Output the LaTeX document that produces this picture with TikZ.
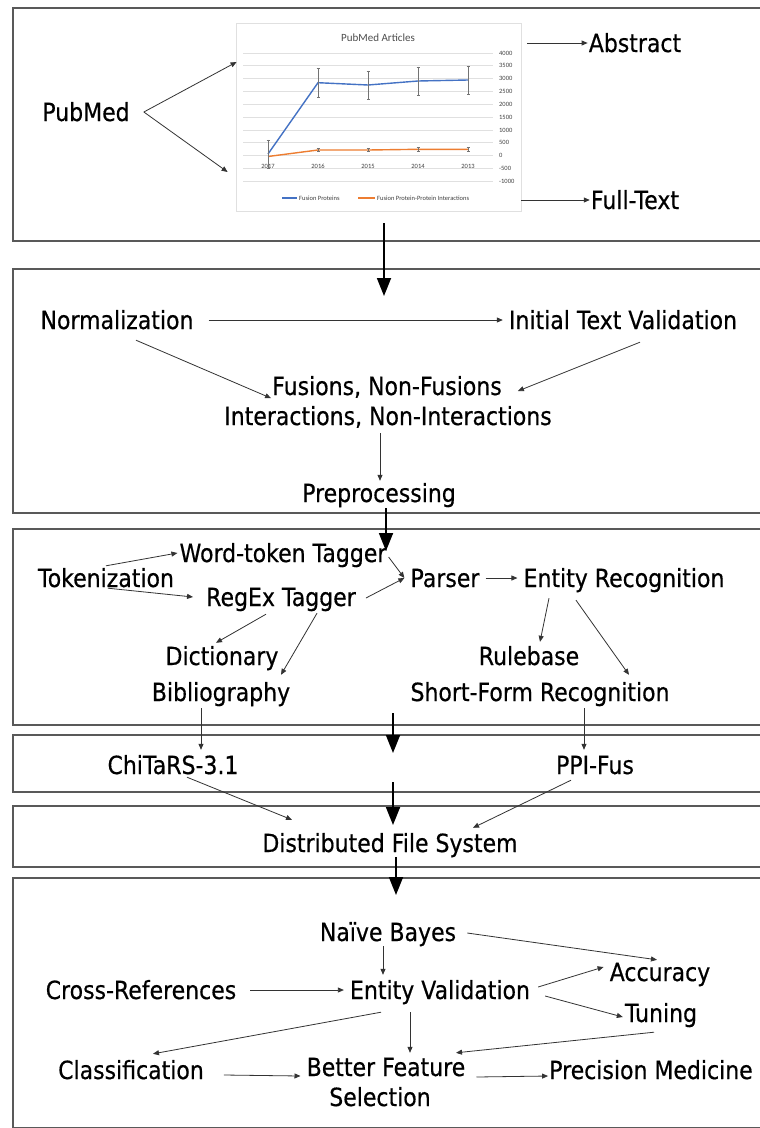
\documentclass[tikz,border=0pt]{standalone}
\usepackage{fontspec}
\setmainfont{DejaVu Sans}[FakeStretch=0.88, FakeBold=0.5]
\newfontfamily\chartfont{Carlito}
\usetikzlibrary{arrows.meta,calc}
\definecolor{fusblue}{RGB}{68,114,196}
\definecolor{fusorange}{RGB}{237,125,49}
\newcommand{\lblfont}{\fontsize{25}{30}\selectfont}

\begin{document}
\begin{tikzpicture}[x=1pt, y=-1pt,
  lbl/.style={font=\lblfont, text height=18pt, text depth=0pt, inner xsep=6pt, inner ysep=3pt},
  arr/.style={-{Triangle[length=6pt,width=5pt]}, draw=black!80, line width=0.8pt},
  bigarr/.style={-{Triangle[length=18pt,width=14pt]}, line width=1.8pt},
  panel/.style={draw=black!65, line width=1.4pt},
  gridln/.style={draw=black!12, line width=0.9pt},
  ticklbl/.style={font=\chartfont\fontsize{6.5}{7}\selectfont, text=black!75, inner sep=0pt},
  ebar/.style={{Bar[width=3pt]}-{Bar[width=3pt]}, draw=black!55, line width=0.6pt},
  series/.style={line width=1.4pt}]
\useasboundingbox (0,0) rectangle (760,1128);
\fill[white] (0,0) rectangle (760,1128);
\foreach \t/\b in {8/241,269/513,529/725,735/792,806/867,878/1128} \draw[panel] (760,\t) -| (13,\b) -- (760,\b);

% chart
\node[draw=black!12, line width=0.8pt, minimum width=285pt, minimum height=188pt, inner sep=0pt] (chart) at (378.5,117) {};
\node[font=\chartfont\fontsize{11}{12}\selectfont, text=black!70] (ctitle) at (378,38) {PubMed Articles};
\foreach \v [count=\i] in {4000,3500,...,-1000} {
  \draw[gridln] (243,{155.7-0.02567*\v}) -- (493,{155.7-0.02567*\v});
  \node[ticklbl, anchor=west] (yl\i) at (499,{155.7-0.02567*\v}) {\v};
}
\foreach \x/\yr [count=\i] in {268/2017,318/2016,368/2015,418/2014,468/2013} \node[ticklbl] (xl\i) at (\x,166) {\yr};
\draw[series, fusorange] (268,156.5) -- (318,150) -- (368,150) -- (418,149.3) -- (468,149.3);
\draw[series, fusblue] (268,154) -- (318,82.7) -- (368,85) -- (418,81) -- (468,80);
\foreach \x/\y in {268/154,318/82.7,368/85,418/81,468/80} \draw[ebar] (\x,\y-14.5) -- (\x,\y+14.5);
\foreach \x/\y in {318/150,368/150,418/149.3,468/149.3} \draw[ebar] (\x,\y-2) -- (\x,\y+2);
\draw[series, fusblue] (282,198) -- (297,198);
\node[ticklbl, anchor=west] (lg1) at (299,198) {Fusion Proteins};
\draw[series, fusorange] (358,198) -- (375,198);
\node[ticklbl, anchor=west] (lg2) at (377,198) {Fusion Protein-Protein Interactions};

% labels
\node[lbl] (pubmed) at (86,112) {PubMed};
\node[lbl, inner xsep=1pt] (abs) at (635,43) {Abstract};
\node[lbl, inner xsep=1pt] (ft) at (635,200) {Full-Text};
\node[lbl] (norm) at (117,320) {Normalization};
\node[lbl] (itv) at (623,320) {Initial Text Validation};
\node[lbl] (fus) at (387,386) {Fusions, Non-Fusions};
\node[lbl] (inter) at (388,416) {Interactions, Non-Interactions};
\node[lbl] (prep) at (379,493) {Preprocessing};
\node[lbl] (tok) at (106,578) {Tokenization};
\node[lbl] (word) at (283,553) {Word-token Tagger};
\node[lbl] (regex) at (281,597) {RegEx Tagger};
\node[lbl] (parser) at (445,578) {Parser};
\node[lbl] (ent) at (624,578) {Entity Recognition};
\node[lbl] (dict) at (222,656) {Dictionary};
\node[lbl] (bib) at (221,692) {Bibliography};
\node[lbl] (rule) at (529,656) {Rulebase};
\node[lbl] (sf) at (540,692) {Short-Form Recognition};
\node[lbl] (chi) at (173,765) {ChiTaRS-3.1};
\node[lbl] (ppi) at (595,765) {PPI-Fus};
\node[lbl] (dfs) at (390,843) {Distributed File System};
\node[lbl] (nb) at (388,932) {Naïve Bayes};
\node[lbl] (ev) at (440,990) {Entity Validation};
\node[lbl] (cr) at (141,990) {Cross-References};
\node[lbl] (acc) at (660,972) {Accuracy};
\node[lbl] (tun) at (661,1013) {Tuning};
\node[lbl] (cls) at (131,1070) {Classification};
\node[lbl] (bf) at (386,1067) {Better Feature};
\node[lbl] (sel) at (380,1097) {Selection};
\node[lbl] (precmed) at (651,1070) {Precision Medicine};

\coordinate (t1) at (384,296);
\coordinate (t2) at (386,551);
\coordinate (b3s) at (393,713);
\coordinate (t3) at (393,753);
\coordinate (b4s) at (393,782);
\coordinate (t4) at (393,825);
\coordinate (t5) at (396,895);

% connectors
\draw[arr] ($(pubmed.east)+(8,0)$) -- ($(chart.west)+(1,-55)$);
\draw[arr] ($(pubmed.east)+(8,0)$) -- ($(chart.west)+(-8,55)$);
\draw[arr] ($(chart.east)+(6,-74)$) -- (abs.west);
\draw[arr] ($(chart.east)+(0,83)$) -- (ft.west);
\draw[bigarr] ($(chart.south)+(5.5,12)$) -- (t1);
\draw[arr, shorten <=9pt] (norm.east) -- (itv.west);
\draw[arr] ($(norm.south)+(19,8)$) -- ($(fus.south west)+(5,0)$);
\draw[arr] ($(itv.south)+(17,10)$) -- ($(fus.east)+(10,5)$);
\draw[arr] ($(inter.south)+(-8,5)$) -- ($(prep.north)+(1,0)$);
\draw[bigarr] ($(prep.south)+(7,3)$) -- (t2);
\draw[arr] (tok.north) -- ($(word.west)+(4,0)$);
\draw[arr] ($(tok.south)+(2,-2)$) -- ($(regex.west)+(-7,0)$);
\draw[arr] ($(word.east)+(-4,4)$) -- (parser.west);
\draw[arr] ($(regex.east)+(4,1)$) -- (parser.west);
\draw[arr] (parser.east) -- (ent.west);
\draw[arr] ($(regex.south)+(-15,5)$) -- ($(dict.north)+(-6,-1)$);
\draw[arr] ($(regex.south)+(36,4)$) -- ($(bib.north)+(60,-5)$);
\draw[arr] ($(ent.south)+(-75,8)$) -- ($(rule.north)+(11,-2)$);
\draw[arr] ($(ent.south)+(-48,10)$) -- ($(sf.north)+(89,-5)$);
\draw[arr] ($(bib.south)+(-20,4)$) -- ($(chi.north)+(28,-3)$);
\draw[arr] ($(sf.south)+(44,4)$) -- ($(ppi.north)+(-11,-3)$);
\draw[bigarr] (b3s) -- (t3);
\draw[bigarr] (b4s) -- (t4);
\draw[arr] ($(chi.south)+(14,0)$) -- ($(dfs.north)+(-98,-11)$);
\draw[arr] ($(ppi.south)+(-24,3)$) -- ($(dfs.north)+(83,-3)$);
\draw[bigarr] ($(dfs.south)+(6,2)$) -- (t5);
\draw[arr] ($(nb.south)+(-5,2)$) -- ($(ev.north)+(-57,-3)$);
\draw[arr] ($(nb.east)+(5,1)$) -- ($(acc.north)+(-3,0)$);
\draw[arr] ($(cr.east)+(8,0)$) -- (ev.west);
\draw[arr] ($(ev.east)+(2,-3)$) -- ($(acc.west)+(0,-5)$);
\draw[arr] ($(ev.east)+(9,6)$) -- ($(tun.west)+(4,4)$);
\draw[arr] ($(ev.south)+(-59,10)$) -- ($(cls.north)+(22,-4)$);
\draw[arr] ($(ev.south)+(-30,10)$) -- ($(bf.north)+(24,-2)$);
\draw[arr] ($(tun.south)+(-7,7)$) -- ($(bf.north)+(70,-2)$);
\draw[arr] ($(cls.east)+(14,5)$) -- ($(bf.west)+(0,9)$);
\draw[arr] ($(bf.east)+(5,10)$) -- ($(precmed.west)+(5,6)$);
\end{tikzpicture}
\end{document}
